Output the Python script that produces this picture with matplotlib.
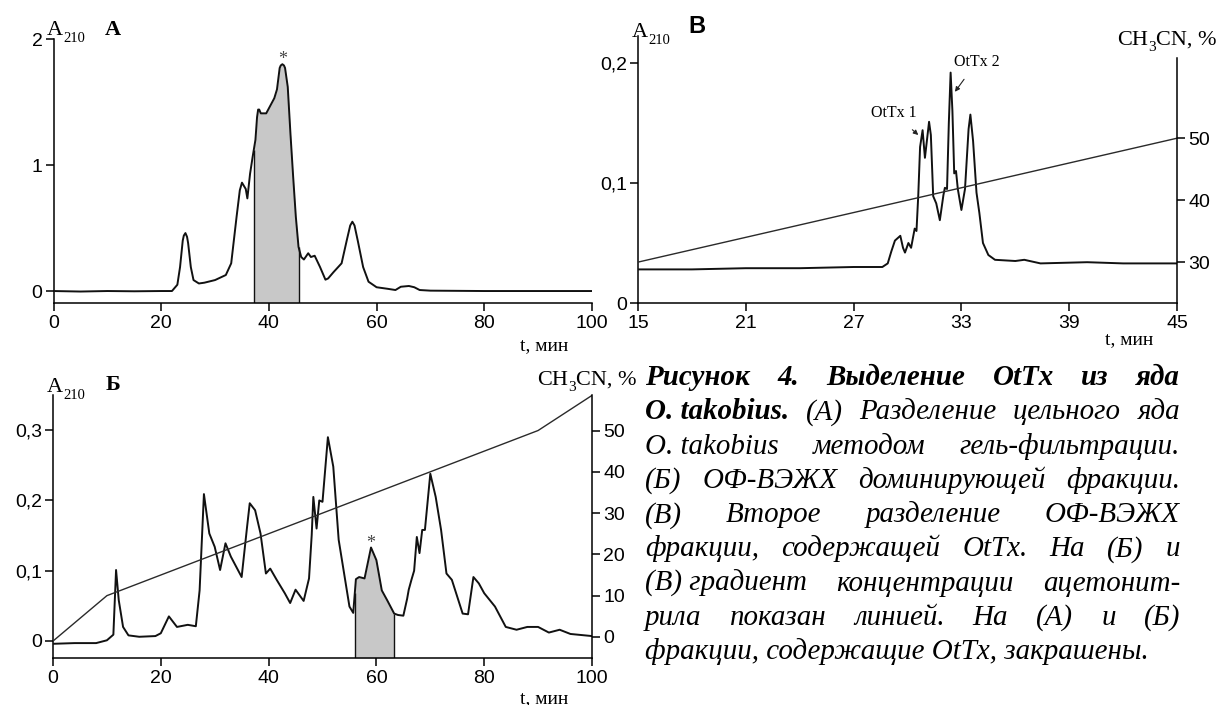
import numpy as np
import matplotlib
matplotlib.use("Agg")
import matplotlib.pyplot as plt

plt.rcParams['font.family'] = ['Liberation Sans', 'DejaVu Sans']
SERIF = ['Liberation Serif', 'DejaVu Serif']
W, H = 1216, 705

# (А) gel filtration of whole venom, A210 vs t, min
gf_t = [0, 5, 10, 15, 20, 22, 23, 23.5, 24, 24.2, 24.5, 24.8, 25, 25.5, 26, 27, 28, 30, 32, 33,
        34, 34.6, 35, 35.7, 36, 36.5, 37, 37.5, 37.8, 38, 38.2, 38.5, 39.5, 41, 41.5, 42, 42.2,
        42.5, 42.8, 43, 43.5, 44, 44.5, 45, 45.5, 46, 46.5, 47.3, 47.8, 48.5, 49.5, 50.5, 51,
        52, 53.5, 54.5, 55.1, 55.5, 55.9, 56.5, 57.5, 58.5, 60, 62, 63.5, 64.5, 66, 67, 68,
        70, 80, 90, 100]
gf_a = [0, -0.004, 0, -0.002, 0, 0, 0.05, 0.19, 0.40, 0.44, 0.46, 0.43, 0.38, 0.19, 0.087,
        0.06, 0.066, 0.087, 0.127, 0.22, 0.59, 0.80, 0.86, 0.81, 0.735, 0.93, 1.07, 1.2, 1.38,
        1.44, 1.44, 1.41, 1.41, 1.53, 1.60, 1.77, 1.79, 1.80, 1.79, 1.77, 1.62, 1.25, 0.91,
        0.59, 0.35, 0.27, 0.25, 0.30, 0.27, 0.28, 0.19, 0.09, 0.10, 0.15, 0.22, 0.41, 0.52,
        0.55, 0.52, 0.40, 0.19, 0.074, 0.03, 0.018, 0.008, 0.034, 0.04, 0.03, 0.008, 0.003,
        0, 0, 0]
gf_frac = [37.2, 45.5]

# (Б) RP-HPLC of the dominant fraction
rp1_t = [0, 4, 8, 10, 11.2, 11.7, 12.2, 13, 14, 16, 19, 20, 21.5, 23, 25, 26.5, 27.2, 28, 29,
         30, 31, 32, 33, 35, 36, 36.5, 37.5, 38.5, 39.5, 40.3, 41.5, 43, 44, 45, 46.5, 47.5,
         48, 48.3, 48.9, 49.4, 50, 51, 52, 53, 55, 55.7, 56.2, 56.8, 57.8, 59, 60, 61, 62,
         63.3, 64, 65, 65.7, 66, 66.5, 67, 67.5, 68, 68.5, 69, 70, 71, 72, 73, 74, 75, 76,
         77, 78, 79, 80, 82, 84, 86, 88, 90, 92, 94, 96, 100]
rp1_a = [-0.004, -0.003, -0.003, 0.001, 0.009, 0.101, 0.058, 0.02, 0.008, 0.006, 0.007,
         0.011, 0.035, 0.02, 0.023, 0.021, 0.072, 0.209, 0.153, 0.134, 0.101, 0.139, 0.12,
         0.091, 0.162, 0.196, 0.186, 0.153, 0.096, 0.103, 0.087, 0.068, 0.054, 0.073, 0.057,
         0.089, 0.151, 0.205, 0.160, 0.200, 0.198, 0.29, 0.248, 0.144, 0.049, 0.040, 0.088,
         0.091, 0.089, 0.133, 0.115, 0.072, 0.058, 0.039, 0.037, 0.036, 0.06, 0.073, 0.087,
         0.1, 0.148, 0.125, 0.158, 0.158, 0.238, 0.205, 0.158, 0.096, 0.087, 0.063, 0.039,
         0.038, 0.091, 0.082, 0.068, 0.049, 0.02, 0.016, 0.02, 0.02, 0.012, 0.016, 0.01,
         0.007]
rp1_grad_t = [0, 10, 90, 100]
rp1_grad = [-1, 10, 50, 58.5]
rp1_frac = [56.0, 63.3]

# (В) second RP-HPLC of the OtTx fraction
rp2_t = [15, 18, 21, 24, 27, 28.6, 28.9, 29.1, 29.3, 29.6, 29.75, 29.86, 30.05, 30.2, 30.4,
         30.5, 30.6, 30.7, 30.84, 30.97, 31.2, 31.3, 31.43, 31.6, 31.8, 32.0, 32.08, 32.2,
         32.3, 32.4, 32.5, 32.6, 32.7, 32.8, 33.0, 33.2, 33.4, 33.5, 33.65, 33.84, 34.0,
         34.2, 34.5, 34.87, 36, 36.5, 37.4, 40, 42, 45]
rp2_a = [0.028, 0.028, 0.029, 0.029, 0.030, 0.030, 0.033, 0.043, 0.052, 0.056, 0.046, 0.042,
         0.050, 0.046, 0.062, 0.060, 0.090, 0.130, 0.144, 0.121, 0.151, 0.140, 0.089, 0.083,
         0.069, 0.090, 0.096, 0.095, 0.150, 0.192, 0.160, 0.108, 0.110, 0.095, 0.0775, 0.095,
         0.145, 0.157, 0.135, 0.092, 0.075, 0.050, 0.040, 0.036, 0.035, 0.036, 0.033, 0.034,
         0.033, 0.033]
rp2_grad_t = [15, 45]
rp2_grad = [30, 50]

# figure caption, justified line by line
cap_lines = [
    [("Рисунок", "bi"), ("4.", "bi"), ("Выделение", "bi"), ("OtTx", "bi"), ("из", "bi"), ("яда", "bi")],
    [("O. takobius.", "bi"), ("(А)", "i"), ("Разделение", "i"), ("цельного", "i"), ("яда", "i")],
    [("O. takobius", "i"), ("методом", "i"), ("гель-фильтрации.", "i")],
    [("(Б)", "i"), ("ОФ-ВЭЖХ", "i"), ("доминирующей", "i"), ("фракции.", "i")],
    [("(В)", "i"), ("Второе", "i"), ("разделение", "i"), ("ОФ-ВЭЖХ", "i")],
    [("фракции,", "i"), ("содержащей", "i"), ("OtTx.", "i"), ("На", "i"), ("(Б)", "i"), ("и", "i")],
    [("(В) градиент", "i"), ("концентрации", "i"), ("ацетонит-", "i")],
    [("рила", "i"), ("показан", "i"), ("линией.", "i"), ("На", "i"), ("(А)", "i"), ("и", "i"), ("(Б)", "i")],
]
cap_last = "фракции, содержащие OtTx, закрашены."

LINE = '#111111'
GRAD = '#2a2a2a'
FILL = '#c8c8c8'
TICKFS = 14

fig = plt.figure(figsize=(W / 100, H / 100), dpi=100)


def rect(x0, y0, x1, y1):
    return [x0 / W, 1 - y1 / H, (x1 - x0) / W, (y1 - y0) / H]


def px(x, y):
    return x / W, 1 - y / H


def style(ax, right=False):
    for s in ['top', 'right', 'left', 'bottom']:
        ax.spines[s].set_linewidth(1.1)
    ax.spines['top'].set_visible(False)
    if not right:
        ax.spines['right'].set_visible(False)
    ax.tick_params(axis='both', direction='out', length=5.5, width=1.1, labelsize=TICKFS,
                   colors='black')
    ax.tick_params(axis='x', pad=3)
    ax.tick_params(axis='y', pad=2.5)


def shade(ax, t, a, lo, hi, ybot):
    t = np.asarray(t, float)
    a = np.asarray(a, float)
    inside = (t > lo) & (t < hi)
    xs = np.concatenate([[lo], t[inside], [hi]])
    ys = np.concatenate([[np.interp(lo, t, a)], a[inside], [np.interp(hi, t, a)]])
    ax.fill_between(xs, ybot, ys, color=FILL, lw=0, zorder=1)
    ax.vlines([lo, hi], ybot, [ys[0], ys[-1]], color='#111111', lw=1.0, zorder=2)


def twin_style(ax2):
    for s in ['top', 'left', 'bottom']:
        ax2.spines[s].set_visible(False)
    ax2.spines['right'].set_linewidth(1.1)
    ax2.tick_params(axis='y', direction='out', length=5.5, width=1.1, labelsize=TICKFS,
                    pad=2.5, colors='black')


# ---- panel А
axA = fig.add_axes(rect(53.5, 39, 592, 303))
style(axA)
axA.set_xlim(0, 100)
axA.set_ylim(-0.095, 2.0)
shade(axA, gf_t, gf_a, gf_frac[0], gf_frac[1], -0.095)
axA.plot(gf_t, gf_a, color=LINE, lw=1.4, zorder=3)
axA.set_xticks([0, 20, 40, 60, 80, 100])
axA.set_yticks([0, 1, 2])
axA.text(42.5, 1.80, "*", ha='center', va='baseline', fontsize=13, family=SERIF, color='#444444')

# ---- panel В
axB = fig.add_axes(rect(638, 36, 1177, 303))
style(axB)
axB.set_xlim(15, 45)
axB.set_ylim(0, 0.2225)
axB.plot(rp2_t, rp2_a, color=LINE, lw=1.4, zorder=3)
axB.set_xticks([15, 21, 27, 33, 39, 45])
axB.set_yticks([0, 0.1, 0.2])
axB.set_yticklabels(['0', '0,1', '0,2'])
axB.annotate("OtTx 1", xy=(30.6, 0.14), xytext=(29.25, 0.158), ha='center', va='center',
             fontsize=11.5, family=SERIF,
             arrowprops=dict(arrowstyle='-|>', lw=0.8, color='#222222', mutation_scale=7,
                             shrinkA=6, shrinkB=0))
axB.annotate("OtTx 2", xy=(32.64, 0.176), xytext=(33.86, 0.201), ha='center', va='center',
             fontsize=11.5, family=SERIF,
             arrowprops=dict(arrowstyle='-|>', lw=0.8, color='#222222', mutation_scale=7,
                             shrinkA=6, shrinkB=0))
axB2 = axB.twinx()
twin_style(axB2)
axB2.set_ylim(23.4, 66.5)
axB2.spines['right'].set_bounds(23.4, 63)
axB2.plot(rp2_grad_t, rp2_grad, color=GRAD, lw=1.0)
axB2.set_yticks([30, 40, 50])

# ---- panel Б
axC = fig.add_axes(rect(53, 395, 592, 658))
style(axC)
axC.set_xlim(0, 100)
axC.set_ylim(-0.0242, 0.35)
shade(axC, rp1_t, rp1_a, rp1_frac[0], rp1_frac[1], -0.0242)
axC.plot(rp1_t, rp1_a, color=LINE, lw=1.4, zorder=3)
axC.set_xticks([0, 20, 40, 60, 80, 100])
axC.set_yticks([0, 0.1, 0.2, 0.3])
axC.set_yticklabels(['0', '0,1', '0,2', '0,3'])
axC.text(59, 0.133, "*", ha='center', va='baseline', fontsize=13, family=SERIF, color='#444444')
axC2 = axC.twinx()
twin_style(axC2)
axC2.set_ylim(-5.1, 58.6)
axC2.plot(rp1_grad_t, rp1_grad, color=GRAD, lw=1.0)
axC2.set_yticks([0, 10, 20, 30, 40, 50])

# ---- labels made of pieces (subscripts)
fig.canvas.draw()
rend = fig.canvas.get_renderer()


def pieces(x, y, parts):
    # parts: (text, fontsize, dy in px, kwargs)
    for txt, fs, dy, kw in parts:
        t = fig.text(*px(x, y + dy), txt, fontsize=fs, ha='left', va='baseline', **kw)
        x += t.get_window_extent(rend).width


ser = dict(family=SERIF)
pieces(47, 35, [("A", 16, 0, ser), ("210", 10.5, 7, ser)])
pieces(632, 37, [("A", 16, 0, ser), ("210", 10.5, 7, ser)])
pieces(47, 392, [("A", 16, 0, ser), ("210", 10.5, 7, ser)])
pieces(1117, 45, [("CH", 16, 0, ser), ("3", 11, 6, ser), ("CN, %", 16, 0, ser)])
pieces(537, 385, [("CH", 16, 0, ser), ("3", 11, 6, ser), ("CN, %", 16, 0, ser)])

fig.text(*px(105, 35), "А", fontsize=16, weight='bold', family=SERIF, va='baseline')
fig.text(*px(688, 33), "В", fontsize=17, weight='bold', va='baseline')
fig.text(*px(106, 390), "Б", fontsize=16, weight='bold', family=SERIF, va='baseline')

for x, y in [(520, 350), (1105, 344), (520, 703)]:
    fig.text(*px(x, y), "t, мин", fontsize=14, family=SERIF, va='baseline')

# ---- caption
cap_x0, cap_x1 = 645, 1180
cap_y0, cap_dy = 385, 34.3
last = fig.text(*px(cap_x0, cap_y0 + 8 * cap_dy), cap_last, fontsize=20, style='italic',
                family=SERIF, va='baseline')
w0 = last.get_window_extent(rend).width
cap_fs = 20 * 504 / w0
last.set_fontsize(cap_fs)

for i, line in enumerate(cap_lines):
    y = cap_y0 + i * cap_dy
    objs = []
    for word, st in line:
        kw = dict(style='italic', family=SERIF, fontsize=cap_fs, va='baseline', ha='left')
        if 'b' in st:
            kw['weight'] = 'bold'
        objs.append(fig.text(*px(cap_x0, y), word, **kw))
    widths = [o.get_window_extent(rend).width for o in objs]
    gap = (cap_x1 - cap_x0 - sum(widths)) / (len(objs) - 1)
    x = cap_x0
    for o, w in zip(objs, widths):
        o.set_position(px(x, y))
        x += w + gap

fig.savefig("out.png", dpi=100)
